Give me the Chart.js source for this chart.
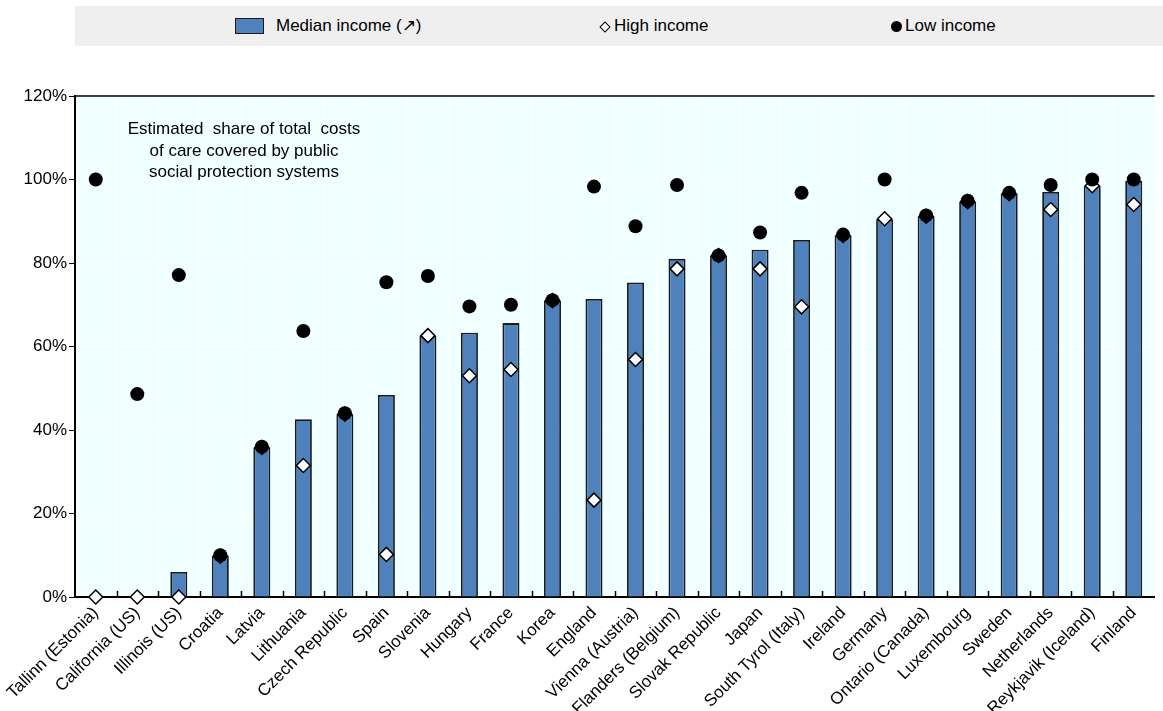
<!DOCTYPE html>
<html>
<head>
<meta charset="utf-8">
<script src="https://cdn.jsdelivr.net/npm/chart.js@4"></script>
<style>
  html, body { margin: 0; padding: 0; background: #fff; }
  #wrap { position: relative; width: 1163px; height: 711px; font-family: "Liberation Sans Narrow", "Arial Narrow", "Liberation Sans", Arial, sans-serif; color: #000; }
  canvas { position: absolute; left: 0; top: 0; }
  #legend { position: absolute; left: 75px; top: 6px; width: 1088px; height: 40px; background: #efefef; }
  .li { position: absolute; top: 0; height: 40px; line-height: 40px; font-size: 17px; white-space: nowrap; }
  .sw-bar { position: absolute; width: 27px; height: 14px; background: #4f81bd; border: 1.5px solid #1a1a1a; }
  .sw-dia { position: absolute; width: 6px; height: 6px; background: #fff; border: 1.5px solid #000; transform: rotate(45deg); }
  .sw-dot { position: absolute; width: 11px; height: 11px; background: #000; border-radius: 50%; }
  #note { position: absolute; left: 104px; top: 118px; width: 280px; text-align: center; font-size: 17px; line-height: 21.5px; }
</style>
</head>
<body>
<div id="wrap">
  <canvas id="c" width="1163" height="711"></canvas>
  <div id="legend">
    <div class="sw-bar" style="left:160px; top:12px;"></div>
    <div class="li" style="left:201px;">Median income (↗)</div>
    <div class="sw-dia" style="left:526px; top:17px;"></div>
    <div class="li" style="left:539px;">High income</div>
    <div class="sw-dot" style="left:816px; top:15px;"></div>
    <div class="li" style="left:830px;">Low income</div>
  </div>
  <div id="note">Estimated&nbsp; share of total&nbsp; costs<br>of care covered by public<br>social protection systems</div>
</div>
<script>
const categories = ["Tallinn (Estonia)", "California (US)", "Illinois (US)", "Croatia", "Latvia", "Lithuania", "Czech Republic", "Spain", "Slovenia", "Hungary", "France", "Korea", "England", "Vienna (Austria)", "Flanders (Belgium)", "Slovak Republic", "Japan", "South Tyrol (Italy)", "Ireland", "Germany", "Ontario (Canada)", "Luxembourg", "Sweden", "Netherlands", "Reykjavik (Iceland)", "Finland"];
const medianIncome = [0, 0, 6, 9.8, 35.8, 42.6, 43.8, 48.4, 62.5, 63.3, 65.6, 71, 71.4, 75.3, 81, 81.8, 83.2, 85.5, 86.6, 90.5, 91.2, 94.7, 96.6, 97, 98.5, 99.7];
const highIncome = [0, 0, 0, 9.8, 35.8, 31.5, 43.8, 10.2, 62.6, 53, 54.5, 71, 23.2, 56.9, 78.6, 81.8, 78.6, 69.5, 86.6, 90.6, 91.2, 94.7, 96.6, 92.8, 98.5, 94];
const lowIncome = [100, 48.6, 77.1, 10, 36, 63.7, 44, 75.4, 76.9, 69.6, 70, 71.1, 98.3, 88.8, 98.7, 81.8, 87.3, 96.8, 86.8, 100, 91.4, 94.9, 96.8, 98.7, 100, 100];
const yTicks = [0, 20, 40, 60, 80, 100, 120];

const FONT = '"Liberation Sans Narrow", "Arial Narrow", "Liberation Sans", Arial, sans-serif';

const framePlugin = {
  id: 'frame',
  beforeDraw(chart) {
    const { ctx, chartArea: a } = chart;
    ctx.save();
    ctx.fillStyle = '#f0ffff';
    ctx.fillRect(a.left, a.top, a.right - a.left, a.bottom - a.top);
    ctx.restore();
  },
  beforeDatasetsDraw(chart) {
    const { ctx, chartArea: a, scales } = chart;
    const x = scales.x;
    ctx.save();
    ctx.strokeStyle = '#000';
    ctx.lineWidth = 1.5;
    ctx.beginPath();
    ctx.moveTo(a.left, a.top);
    ctx.lineTo(a.right, a.top);
    ctx.stroke();
    ctx.beginPath();
    for (let i = 1; i < categories.length; i++) {
      const px = Math.round((x.getPixelForValue(i - 1) + x.getPixelForValue(i)) / 2) + 0.5;
      ctx.moveTo(px, a.bottom);
      ctx.lineTo(px, a.bottom - 6);
    }
    ctx.stroke();
    ctx.restore();
  }
};

new Chart(document.getElementById('c'), {
  type: 'bar',
  data: {
    labels: categories,
    datasets: [
      {
        type: 'line',
        label: 'Low income',
        data: lowIncome,
        showLine: false,
        pointStyle: 'circle',
        pointRadius: 7,
        pointBackgroundColor: '#000',
        pointBorderColor: '#000',
        pointBorderWidth: 0,
        order: 1,
        clip: false
      },
      {
        type: 'line',
        label: 'High income',
        data: highIncome,
        showLine: false,
        pointStyle: 'rectRot',
        pointRadius: 7,
        pointBackgroundColor: '#fff',
        pointBorderColor: '#000',
        pointBorderWidth: 1.5,
        order: 2,
        clip: false
      },
      {
        type: 'bar',
        label: 'Median income',
        data: medianIncome,
        backgroundColor: '#4f81bd',
        borderColor: '#1a1a1a',
        borderWidth: 1.8,
        barPercentage: 0.41,
        categoryPercentage: 1,
        order: 3
      }
    ]
  },
  options: {
    responsive: false,
    animation: false,
    events: [],
    layout: { padding: { top: 96, right: 0, left: 0, bottom: 0 } },
    plugins: { legend: { display: false }, tooltip: { enabled: false } },
    scales: {
      x: {
        offset: true,
        grid: { color: '#ffffff', lineWidth: 1, drawTicks: false, offset: true },
        border: { color: '#000', width: 2 },
        ticks: {
          font: { family: FONT, size: 17 },
          color: '#000',
          minRotation: 45,
          maxRotation: 45,
          padding: 6,
          autoSkip: false
        },
        afterFit(scale) { scale.height = 114; }
      },
      y: {
        min: 0,
        max: 120,
        afterBuildTicks(scale) { scale.ticks = yTicks.map(v => ({ value: v })); },
        grid: { color: '#ffffff', lineWidth: 1, tickColor: '#000', tickLength: 6, drawTicks: true },
        border: { color: '#000', width: 2 },
        ticks: {
          font: { family: FONT, size: 17 },
          color: '#000',
          padding: 2,
          callback: v => v + '%'
        },
        afterFit(scale) { scale.width = 75; }
      }
    }
  },
  plugins: [framePlugin]
});
</script>
</body>
</html>
